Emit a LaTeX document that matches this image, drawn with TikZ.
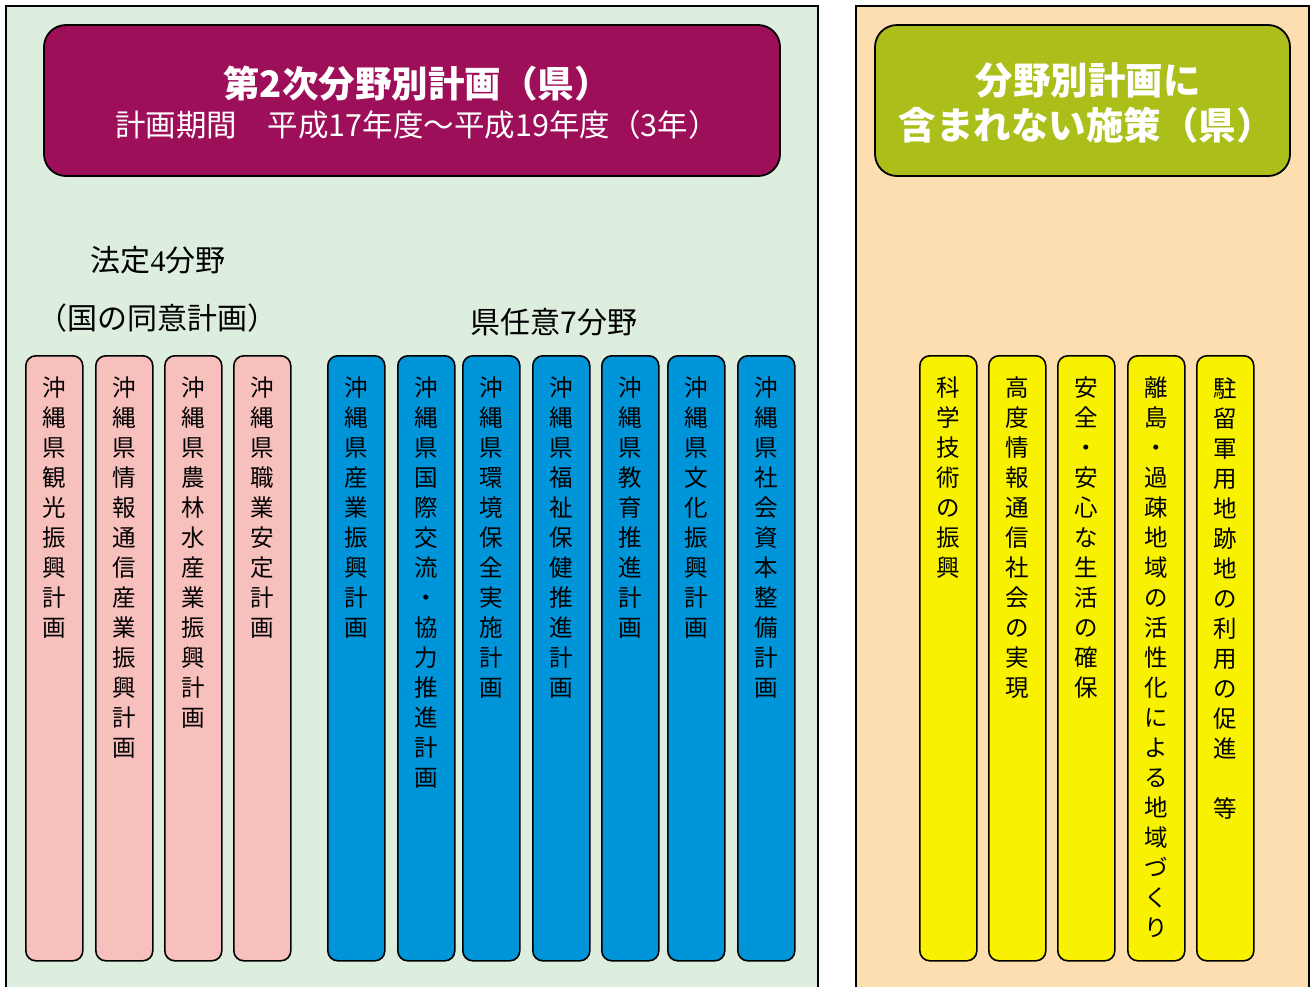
\documentclass[tikz,border=0pt]{standalone}
\usepackage{fontspec}
\newfontfamily\jp{Noto Sans CJK JP}
\newfontfamily\serifd{Liberation Serif}
\definecolor{lgreen}{HTML}{DDEEDF}
\definecolor{magenta}{HTML}{9E0F5A}
\definecolor{peach}{HTML}{FCDEB0}
\definecolor{olive}{HTML}{ABBE1A}
\definecolor{pinkc}{HTML}{F8C0BC}
\definecolor{bluec}{HTML}{0094D8}
\definecolor{yellowc}{HTML}{F8F200}
\ExplSyntaxOn
\NewDocumentCommand\vt{m}{
  \bool_set_false:N \l_tmpa_bool
  \tl_map_inline:nn {#1}
    { \bool_if:NT \l_tmpa_bool { \\ } \bool_set_true:N \l_tmpa_bool ##1 }
}
\ExplSyntaxOff
\begin{document}
\begin{tikzpicture}[x=1pt,y=-1pt,
  panel/.style={draw=black,line width=1.8pt},
  headbox/.style={draw=black,line width=1.8pt,rounded corners=22pt},
  col/.style={draw=black,line width=1.6pt,rounded corners=10pt,minimum width=57pt,minimum height=605pt,inner sep=0pt,anchor=north west},
  coltext/.style={font=\jp\fontsize{23.5}{30}\selectfont,align=center,inner sep=0pt,anchor=north,yshift=-22pt},
  headtxt/.style={text=white,inner sep=0pt},
  label/.style={font=\jp\fontsize{30}{30}\selectfont,inner sep=0pt}]
\useasboundingbox (0,0) rectangle (1311,986);
% panels
\draw[panel,fill=lgreen] (6,6) rectangle (818,1000);
\draw[panel,fill=peach] (856,6) rectangle (1309,1000);
% header boxes
\draw[headbox,fill=magenta] (44,25) rectangle (780,176);
\draw[headbox,fill=olive] (875,25) rectangle (1290,176);
\node[headtxt,font=\jp\bfseries\fontsize{36.5}{37}\selectfont] (t1) at (417,84) {第2次分野別計画（県）};
\node[headtxt,font=\jp\fontsize{30.5}{30}\selectfont] (t2) at (417,125) {計画期間　平成17年度～平成19年度（3年）};
\node[headtxt,font=\jp\bfseries\fontsize{37.5}{37}\selectfont] (g1) at (1088,80) {分野別計画に};
\node[headtxt,font=\jp\bfseries\fontsize{37.5}{37}\selectfont] (g2) at (1086,125) {含まれない施策（県）};
% labels
\node[label] (l1) at (158,260) {法定{\serifd 4}分野};
\node[label] (l2) at (157,318) {（国の同意計画）};
\node[label] (l3) at (554,322) {県任意7分野};
% pink columns
\node[col,fill=pinkc] (p1) at (25,355) {};
\node[col,fill=pinkc] (p2) at (95,355) {};
\node[col,fill=pinkc] (p3) at (164,355) {};
\node[col,fill=pinkc] (p4) at (233,355) {};
\node[coltext] (p1t) at (p1.north) {\vt{沖縄県観光振興計画}};
\node[coltext] (p2t) at (p2.north) {\vt{沖縄県情報通信産業振興計画}};
\node[coltext] (p3t) at (p3.north) {\vt{沖縄県農林水産業振興計画}};
\node[coltext] (p4t) at (p4.north) {\vt{沖縄県職業安定計画}};
% blue columns
\node[col,fill=bluec] (b1) at (327,355) {};
\node[col,fill=bluec] (b2) at (397,355) {};
\node[col,fill=bluec] (b3) at (462,355) {};
\node[col,fill=bluec] (b4) at (532,355) {};
\node[col,fill=bluec] (b5) at (601,355) {};
\node[col,fill=bluec] (b6) at (667,355) {};
\node[col,fill=bluec] (b7) at (737,355) {};
\node[coltext] (b1t) at (b1.north) {\vt{沖縄県産業振興計画}};
\node[coltext] (b2t) at (b2.north) {\vt{沖縄県国際交流・協力推進計画}};
\node[coltext] (b3t) at (b3.north) {\vt{沖縄県環境保全実施計画}};
\node[coltext] (b4t) at (b4.north) {\vt{沖縄県福祉保健推進計画}};
\node[coltext] (b5t) at (b5.north) {\vt{沖縄県教育推進計画}};
\node[coltext] (b6t) at (b6.north) {\vt{沖縄県文化振興計画}};
\node[coltext] (b7t) at (b7.north) {\vt{沖縄県社会資本整備計画}};
% yellow columns
\node[col,fill=yellowc] (y1) at (919,355) {};
\node[col,fill=yellowc] (y2) at (988,355) {};
\node[col,fill=yellowc] (y3) at (1057,355) {};
\node[col,fill=yellowc] (y4) at (1127,355) {};
\node[col,fill=yellowc] (y5) at (1196,355) {};
\node[coltext] (y1t) at (y1.north) {\vt{科学技術の振興}};
\node[coltext] (y2t) at (y2.north) {\vt{高度情報通信社会の実現}};
\node[coltext] (y3t) at (y3.north) {\vt{安全・安心な生活の確保}};
\node[coltext] (y4t) at (y4.north) {\vt{離島・過疎地域の活性化による地域づくり}};
\node[coltext] (y5t) at (y5.north) {\vt{駐留軍用地跡地の利用の促進　等}};
\end{tikzpicture}
\end{document}
